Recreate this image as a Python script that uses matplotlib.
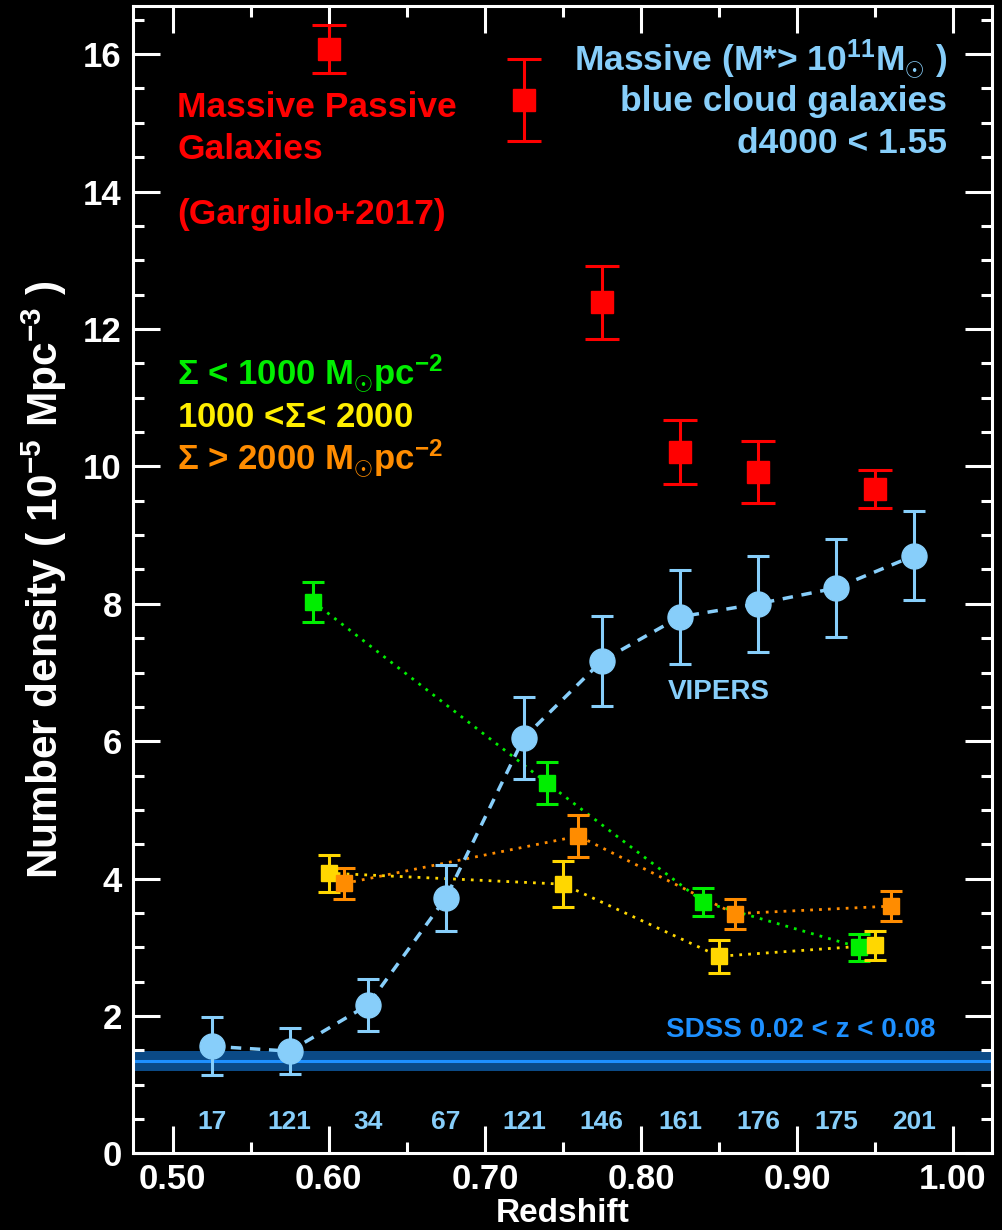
import numpy as np
import matplotlib
matplotlib.use("Agg")
import matplotlib.pyplot as plt
from matplotlib.ticker import MultipleLocator, FormatStrFormatter

# ---------------- data ----------------
# Massive passive galaxies (Gargiulo+2017)
red_z = [0.600, 0.725, 0.775, 0.825, 0.875, 0.950]
red_n = [16.07, 15.33, 12.39, 10.21, 9.92, 9.67]
red_e = [0.35, 0.60, 0.53, 0.47, 0.45, 0.28]

# VIPERS massive blue cloud galaxies
blue_z = [0.525, 0.575, 0.625, 0.675, 0.725, 0.775, 0.825, 0.875, 0.925, 0.975]
blue_n = [1.56, 1.49, 2.16, 3.72, 6.05, 7.17, 7.81, 8.00, 8.23, 8.70]
blue_e = [0.42, 0.33, 0.38, 0.48, 0.60, 0.65, 0.68, 0.70, 0.72, 0.65]
blue_counts = ["17", "121", "34", "67", "121", "146", "161", "176", "175", "201"]

# Surface density bins
green_z = [0.590, 0.740, 0.840, 0.940]
green_n = [8.03, 5.39, 3.66, 3.00]
green_e = [0.29, 0.31, 0.20, 0.20]

yellow_z = [0.600, 0.750, 0.850, 0.950]
yellow_n = [4.08, 3.92, 2.87, 3.03]
yellow_e = [0.27, 0.33, 0.24, 0.21]

orange_z = [0.610, 0.760, 0.860, 0.960]
orange_n = [3.93, 4.62, 3.49, 3.60]
orange_e = [0.23, 0.30, 0.22, 0.22]

# SDSS local value and band
sdss_val = 1.35
sdss_lo, sdss_hi = 1.20, 1.49

# ---------------- style ----------------
plt.rcParams['font.family'] = ['Liberation Sans', 'DejaVu Sans']
plt.rcParams['font.weight'] = 'bold'
plt.rcParams['axes.labelweight'] = 'bold'
plt.rcParams['mathtext.fontset'] = 'custom'
plt.rcParams['mathtext.rm'] = 'Liberation Sans:bold'
plt.rcParams['mathtext.bf'] = 'Liberation Sans:bold'
plt.rcParams['mathtext.it'] = 'Liberation Sans:bold:italic'
plt.rcParams['mathtext.sf'] = 'Liberation Sans:bold'

RED = '#ff0000'
LBLUE = '#87cefa'
GREEN = '#00ee00'
YELLOW = '#ffd700'
YELLOW_T = '#ffee00'
ORANGE = '#ff8c00'
SDSS_C = '#1e90ff'
BAND_C = '#0b4a86'

fig = plt.figure(figsize=(10.02, 12.30), dpi=100, facecolor='black')
ax = fig.add_axes([0.1327, 0.0622, 0.990 - 0.1327, 0.9951 - 0.0622])
ax.set_facecolor('black')

ax.set_xlim(0.4745, 1.025)
ax.set_ylim(0, 16.7)

# SDSS band
ax.axhspan(sdss_lo, sdss_hi, color=BAND_C, zorder=1, lw=0)
ax.axhline(sdss_val, color=SDSS_C, lw=2.2, zorder=1.5)
ax.text(0.9885, 1.80, "SDSS 0.02 < z < 0.08", color=SDSS_C, fontsize=20,
        ha='right', va='center')

# dotted connecting lines
ax.plot(green_z, green_n, color=GREEN, ls=(0, (1, 2.2)), lw=2, zorder=2)
ax.plot(yellow_z, yellow_n, color=YELLOW, ls=(0, (1, 2.2)), lw=2, zorder=2)
ax.plot(orange_z, orange_n, color=ORANGE, ls=(0, (1, 2.2)), lw=2, zorder=2)

# error bars for surface density bins
for z, n, e, c in [(green_z, green_n, green_e, GREEN),
                   (yellow_z, yellow_n, yellow_e, YELLOW),
                   (orange_z, orange_n, orange_e, ORANGE)]:
    ax.errorbar(z, n, yerr=e, fmt='s', color=c, ms=11, capsize=8,
                elinewidth=2.2, capthick=2.2, zorder=3)

# blue VIPERS
ax.plot(blue_z, blue_n, color=LBLUE, ls=(0, (3, 2.5)), lw=2.5, zorder=4)
ax.errorbar(blue_z, blue_n, yerr=blue_e, fmt='o', color=LBLUE, ms=18,
            capsize=8, elinewidth=2.2, capthick=2.2, zorder=5)

# red passive
ax.errorbar(red_z, red_n, yerr=red_e, fmt='s', color=RED, ms=16,
            capsize=12.5, elinewidth=2.2, capthick=2.2, zorder=5)

# counts row
for z, s in zip(blue_z, blue_counts):
    ax.text(z, 0.46, s, color=LBLUE, fontsize=19, ha='center', va='center')

ax.text(0.85, 6.72, "VIPERS", color=LBLUE, fontsize=20, ha='center', va='center')

# annotations
ax.text(0.503, 15.22, "Massive Passive", color=RED, fontsize=25.5,
        ha='left', va='center')
ax.text(0.503, 14.61, "Galaxies", color=RED, fontsize=25.5,
        ha='left', va='center')
ax.text(0.503, 13.66, "(Gargiulo+2017)", color=RED, fontsize=25.5,
        ha='left', va='center')

ax.text(0.996, 15.93, r"Massive (M*> 10$^{11}$M$_{\odot}$ )", color=LBLUE,
        fontsize=25.5, ha='right', va='center')
ax.text(0.996, 15.31, "blue cloud galaxies", color=LBLUE, fontsize=25.5,
        ha='right', va='center')
ax.text(0.996, 14.70, "d4000 < 1.55", color=LBLUE, fontsize=25.5,
        ha='right', va='center')

ax.text(0.503, 11.36, r"$\Sigma$ < 1000 M$_{\odot}$pc$^{-2}$", color=GREEN,
        fontsize=25, ha='left', va='center')
ax.text(0.503, 10.71, r"1000 <$\Sigma$< 2000", color=YELLOW_T,
        fontsize=25, ha='left', va='center')
ax.text(0.503, 10.12, r"$\Sigma$ > 2000 M$_{\odot}$pc$^{-2}$", color=ORANGE,
        fontsize=25, ha='left', va='center')

# axes styling
for sp in ax.spines.values():
    sp.set_color('white')
    sp.set_linewidth(2.2)

ax.xaxis.set_major_locator(MultipleLocator(0.1))
ax.xaxis.set_minor_locator(MultipleLocator(0.05))
ax.yaxis.set_major_locator(MultipleLocator(2))
ax.yaxis.set_minor_locator(MultipleLocator(0.5))
ax.xaxis.set_major_formatter(FormatStrFormatter('%.2f'))
ax.yaxis.set_major_formatter(FormatStrFormatter('%d'))

ax.tick_params(which='both', direction='in', top=True, right=True,
               colors='white', width=2.2, labelsize=25)
ax.tick_params(which='major', length=19.5)
ax.tick_params(which='minor', length=8)
ax.tick_params(axis='y', which='major', pad=8)
ax.tick_params(axis='x', which='major', pad=7)

ax.set_xlabel("Redshift", color='white', fontsize=24, fontweight='bold',
              labelpad=1)
ax.set_ylabel(r"Number density ( 10$^{-5}$ Mpc$^{-3}$ )", color='white',
              fontsize=30.5, fontweight='bold', labelpad=10)

fig.savefig("out.png", dpi=100, facecolor='black')
